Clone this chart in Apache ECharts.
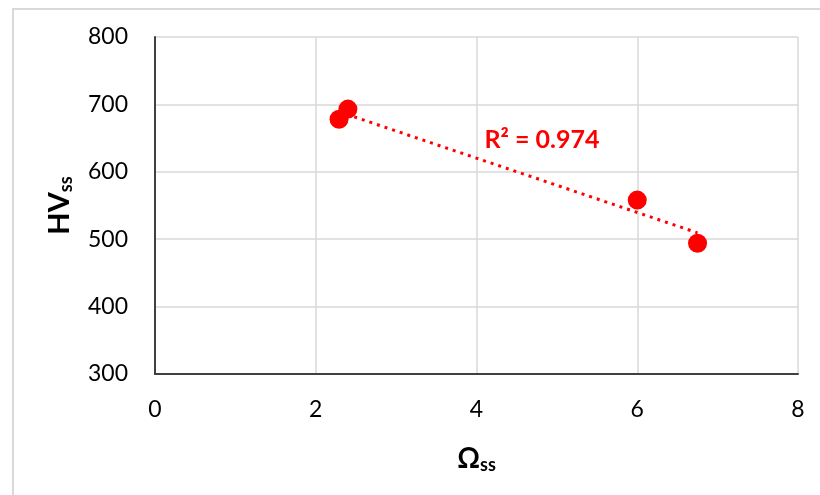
<!DOCTYPE html>
<html>
<head>
<meta charset="utf-8">
<script src="https://cdn.jsdelivr.net/npm/echarts@6/dist/echarts.min.js"></script>
<style>
  html, body { margin: 0; padding: 0; background: #fff; }
  #frame { position: absolute; left: 12px; top: 8px; width: 820px; height: 500px;
           border-left: 2px solid #d9d9d9; border-top: 2px solid #d9d9d9; box-sizing: border-box; }
  #chart { position: absolute; left: 0; top: 0; width: 820px; height: 495px; }
</style>
</head>
<body>
<div id="frame"></div>
<div id="chart"></div>
<script>
// Steady-state measurements: Omega_ss vs HV_ss
const omegaSS = [2.29, 2.40, 6.00, 6.75];
const hvSS = [678, 693, 558, 494];
const xTicks = [0, 2, 4, 6, 8];
const yTicks = [300, 400, 500, 600, 700, 800];
const r2Text = 'R² = 0.974';

// least-squares fit for the trendline
function linearFit(xs, ys) {
  const n = xs.length;
  const mx = xs.reduce((a, b) => a + b, 0) / n;
  const my = ys.reduce((a, b) => a + b, 0) / n;
  let sxy = 0, sxx = 0;
  for (let i = 0; i < n; i++) {
    sxy += (xs[i] - mx) * (ys[i] - my);
    sxx += (xs[i] - mx) * (xs[i] - mx);
  }
  const slope = sxy / sxx;
  return { slope, intercept: my - slope * mx };
}
const fit = linearFit(omegaSS, hvSS);
const xMin = Math.min(...omegaSS), xMax = Math.max(...omegaSS);
const trend = [[xMin, fit.intercept + fit.slope * xMin], [xMax, fit.intercept + fit.slope * xMax]];

const font = 'Lato, "Open Sans", sans-serif';
const chart = echarts.init(document.getElementById('chart'), null, { renderer: 'canvas' });
chart.setOption({
  animation: false,
  backgroundColor: 'transparent',
  grid: { left: 155, top: 37, right: 22, bottom: 121, containLabel: false },
  xAxis: {
    type: 'value', min: xTicks[0], max: xTicks[xTicks.length - 1], interval: 2,
    axisLine: { show: true, onZero: false, lineStyle: { color: '#404040', width: 2 } },
    axisTick: { show: false },
    axisLabel: { fontFamily: font, fontSize: 23, color: '#000', margin: 24 },
    splitLine: { show: true, lineStyle: { color: '#d9d9d9', width: 1.5 } },
    name: '{b|Ω}{s|ss}', nameLocation: 'middle', nameGap: 70,
    nameTextStyle: {
      rich: {
        b: { fontFamily: font, fontSize: 28, fontWeight: 'bold', color: '#000' },
        s: { fontFamily: font, fontSize: 18, fontWeight: 'bold', color: '#000', verticalAlign: 'bottom', padding: [12, 0, 0, 0] }
      }
    }
  },
  yAxis: {
    type: 'value', min: yTicks[0], max: yTicks[yTicks.length - 1], interval: 100,
    axisLine: { show: true, onZero: false, lineStyle: { color: '#404040', width: 2 } },
    axisTick: { show: false },
    axisLabel: { fontFamily: font, fontSize: 23, color: '#000', margin: 27 },
    splitLine: { show: true, lineStyle: { color: '#d9d9d9', width: 1.5 } },
    name: '{b|HV}{s|ss}', nameLocation: 'middle', nameGap: 80, nameRotate: 90,
    nameTextStyle: {
      rich: {
        b: { fontFamily: font, fontSize: 29, fontWeight: 'bold', color: '#000' },
        s: { fontFamily: font, fontSize: 18, fontWeight: 'bold', color: '#000', verticalAlign: 'bottom', padding: [12, 0, 0, 0] }
      }
    }
  },
  series: [
    {
      type: 'line', data: trend, symbol: 'none', silent: true, z: 2,
      lineStyle: { color: '#ff0000', width: 3, type: [3, 5] }
    },
    {
      type: 'scatter', data: omegaSS.map((x, i) => [x, hvSS[i]]), symbol: 'circle', symbolSize: 19, z: 3,
      itemStyle: { color: '#ff0000', opacity: 1 }
    }
  ]
});

// R² annotation placed in data coordinates
const pos = chart.convertToPixel({ gridIndex: 0 }, [4.1, 647]);
chart.setOption({
  graphic: [{
    type: 'text', x: pos[0], y: pos[1],
    style: { text: r2Text, fill: '#ff0000', font: 'bold 25px ' + font, textVerticalAlign: 'middle', textAlign: 'left' }
  }]
});
</script>
</body>
</html>
